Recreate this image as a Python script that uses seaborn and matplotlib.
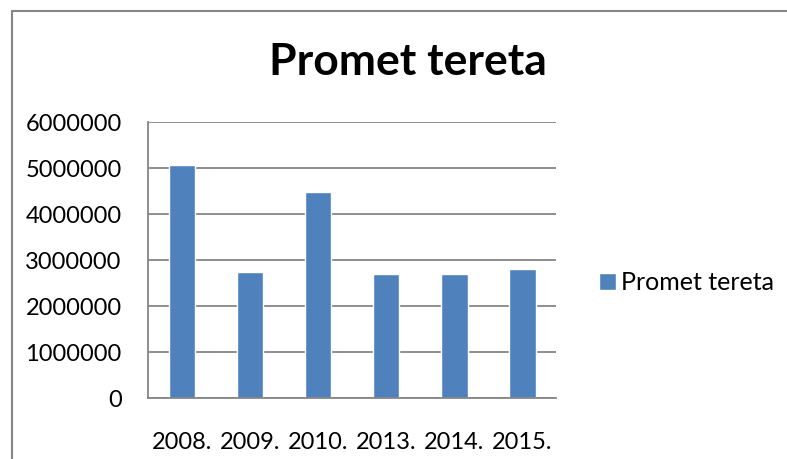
import matplotlib
matplotlib.use("Agg")
from matplotlib import pyplot as plt
from matplotlib.lines import Line2D
import numpy as np
import pandas as pd
import seaborn as sns

# values
years = ["2008.", "2009.", "2010.", "2013.", "2014.", "2015."]
promet = [5080000, 2740000, 4480000, 2700000, 2700000, 2820000]
series_name = "Promet tereta"

df = pd.DataFrame({"godina": years, "promet": promet, "serija": series_name})

sns.set_theme(style="white")
plt.rcParams["font.family"] = ["Lato", "DejaVu Sans"]
plt.rcParams["text.color"] = "black"
plt.rcParams["xtick.labelcolor"] = "black"
plt.rcParams["ytick.labelcolor"] = "black"

bar_color = "#4f81bd"
grid_color = "#868686"

fig = plt.figure(figsize=(7.87, 4.59), dpi=100)
ax = fig.add_axes([0.188, 0.132, 0.519, 0.6015])

sns.barplot(data=df, x="godina", y="promet", hue="serija", palette=[bar_color],
            width=0.39, ax=ax, legend=True, saturation=1)

ax.set_ylim(0, 6000000)
ax.set_xlim(-0.5, len(years) - 0.5)
yt = np.arange(0, 6000001, 1000000)
ax.set_yticks(yt)
ax.set_yticklabels([f"{int(v)}" for v in yt], fontsize=17, color="black")
ax.set_xticks(range(len(years)))
ax.set_xticklabels(years, fontsize=17, color="black")
ax.set_xticks(np.arange(-0.5, len(years), 1), minor=True)
ax.tick_params(axis="x", which="major", length=0, pad=24)
ax.tick_params(axis="x", which="minor", length=7, width=1.3, color=grid_color, direction="out")
ax.tick_params(axis="y", which="major", length=6, width=1.3, color=grid_color, direction="out", pad=13)
ax.yaxis.grid(True, color=grid_color, linewidth=1.3)
ax.set_axisbelow(True)
ax.set_xlabel("")
ax.set_ylabel("")
for s in ["top", "right"]:
    ax.spines[s].set_visible(False)
for s in ["left", "bottom"]:
    ax.spines[s].set_color(grid_color)
    ax.spines[s].set_linewidth(1.3)

leg = ax.legend(loc="center left", bbox_to_anchor=(1.05, 0.42), frameon=False,
                fontsize=18, handlelength=0.65, handleheight=0.65, handletextpad=0.22)
for t in leg.get_texts():
    t.set_color("black")

fig.text(0.518, 0.865, "Promet tereta", ha="center", va="center",
         fontsize=32, fontweight="bold", color="black")

# chart area border (only top and left edges visible in the crop)
x0, y0 = 12 / 787, 1 - 10.5 / 459
fig.lines.append(Line2D([x0, 1.0], [y0, y0], transform=fig.transFigure,
                        color=grid_color, linewidth=1.5))
fig.lines.append(Line2D([x0, x0], [0.0, y0], transform=fig.transFigure,
                        color=grid_color, linewidth=1.5))

fig.savefig("out.png", dpi=100)
